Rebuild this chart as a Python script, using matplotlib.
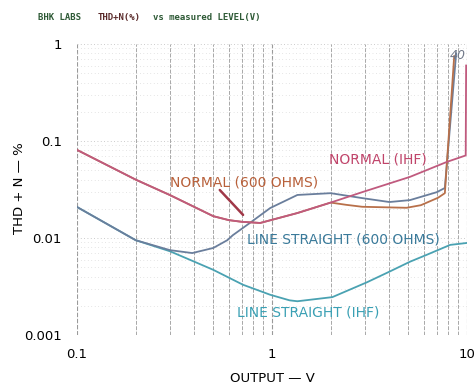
import matplotlib
matplotlib.use("Agg")
import matplotlib.pyplot as plt
from matplotlib.ticker import NullFormatter, LogLocator

# ---- data ----
normal_ihf_v = [0.1, 0.2, 0.3, 0.5, 0.6, 0.7, 0.87, 1.35, 2.0, 2.9, 5.1, 7.9, 9.85, 9.9]
normal_ihf_thd = [0.081, 0.040, 0.0277, 0.0168, 0.0153, 0.0147, 0.0143, 0.0181, 0.0232, 0.0297, 0.0427, 0.061, 0.071, 0.6]

normal_600_v = [0.1, 0.2, 0.3, 0.5, 0.6, 0.7, 0.87, 1.35, 2.0, 2.4, 2.9, 4.9, 5.8, 7.1, 7.7, 8.6]
normal_600_thd = [0.081, 0.040, 0.0277, 0.0168, 0.0153, 0.0147, 0.0143, 0.0181, 0.0232, 0.022, 0.021, 0.0205, 0.0218, 0.026, 0.029, 0.75]

ls_600_v = [0.1, 0.2, 0.3, 0.39, 0.5, 0.59, 0.63, 0.77, 0.98, 1.14, 1.35, 2.0, 2.9, 4.0, 5.1, 7.0, 7.7, 8.8]
ls_600_thd = [0.0209, 0.0095, 0.0075, 0.0070, 0.0079, 0.0095, 0.0107, 0.0143, 0.0204, 0.0236, 0.0278, 0.029, 0.0258, 0.0235, 0.0246, 0.0297, 0.0328, 0.8]

ls_ihf_v = [0.1, 0.2, 0.3, 0.4, 0.5, 0.71, 0.98, 1.23, 1.35, 2.04, 3.07, 4.0, 5.1, 6.2, 8.2, 10]
ls_ihf_thd = [0.0209, 0.0095, 0.0073, 0.0057, 0.0047, 0.0033, 0.0026, 0.00228, 0.00223, 0.00246, 0.0035, 0.0045, 0.0057, 0.0067, 0.0085, 0.0089]

x_ticks = [0.1, 1, 10]
x_tick_labels = ["0.1", "1", "10"]
y_ticks = [0.001, 0.01, 0.1, 1]
y_tick_labels = ["0.001", "0.01", "0.1", "1"]

# ---- figure ----
fig = plt.figure(figsize=(4.74, 3.86), dpi=100)
ax = fig.add_axes([0.1624, 0.132, 0.8228, 0.754])
ax.set_xscale("log")
ax.set_yscale("log")
ax.set_xlim(0.1, 10)
ax.set_ylim(0.001, 1)

for s in ax.spines.values():
    s.set_visible(False)

# grid
ax.xaxis.set_minor_locator(LogLocator(base=10, subs=range(2, 10)))
ax.yaxis.set_minor_locator(LogLocator(base=10, subs=range(2, 10)))
ax.xaxis.set_minor_formatter(NullFormatter())
ax.yaxis.set_minor_formatter(NullFormatter())
ax.grid(True, which="major", axis="x", color="#9a9a9a", lw=0.8, ls=(0, (4, 1.5)))
ax.grid(True, which="minor", axis="x", color="#a8a8a8", lw=0.7, ls=(0, (4, 1.5)))
ax.grid(True, which="major", axis="y", color="#bbbbbb", lw=0.6, ls=(0, (1, 3)))
ax.grid(True, which="minor", axis="y", color="#cccccc", lw=0.5, ls=(0, (1, 4)))

ax.set_xticks(x_ticks)
ax.set_xticklabels(x_tick_labels)
ax.set_yticks(y_ticks)
ax.set_yticklabels(y_tick_labels)
ax.tick_params(which="both", length=0)
ax.tick_params(axis="x", pad=9, labelsize=9.5)
ax.tick_params(axis="y", pad=11, labelsize=9.5)

# curves
ax.plot(ls_ihf_v, ls_ihf_thd, color="#4aa2b2", lw=1.3)
ax.plot(ls_600_v, ls_600_thd, color="#6a7e9c", lw=1.3)
ax.plot(normal_600_v, normal_600_thd, color="#b8704a", lw=1.3)
ax.plot(normal_ihf_v, normal_ihf_thd, color="#c05a7e", lw=1.3)

# axis titles
fig.text(272 / 474, 1 - 378 / 386, "OUTPUT — V", fontsize=9.5, ha="center", va="center")
fig.text(20 / 474, 1 - 188 / 386, "THD + N — %", fontsize=9.5, rotation=90,
         ha="center", va="center")

# curve labels
ax.text(1.96, 0.0652, "NORMAL (IHF)", fontsize=10,
        color="#c0446a", ha="left", va="center")
ax.text(0.30, 0.0378, "NORMAL (600 OHMS)", fontsize=10,
        color="#b8603a", ha="left", va="center")
ax.annotate("", xy=(0.727, 0.0165), xytext=(0.528, 0.0328),
            arrowprops=dict(arrowstyle="-", color="#a03848", lw=1.8))
ax.text(0.744, 0.00977, "LINE STRAIGHT (600 OHMS)", fontsize=10,
        color="#3a7a9a", ha="left", va="center")
ax.text(0.662, 0.00169, "LINE STRAIGHT (IHF)", fontsize=10,
        color="#3aa0b4", ha="left", va="center")
ax.text(8.2, 0.77, "40", fontsize=9, color="#707888", style="italic", ha="left", va="center")

fig.text(0.08, 0.955, "BHK LABS", fontsize=6.5, family="DejaVu Sans Mono",
         color="#2e5a36", ha="left", va="center", weight="bold")
fig.text(0.205, 0.955, "THD+N(%)", fontsize=6.5, family="DejaVu Sans Mono",
         color="#5a2a2a", ha="left", va="center", weight="bold")
fig.text(0.322, 0.955, "vs measured LEVEL(V)", fontsize=6.5, family="DejaVu Sans Mono",
         color="#2e5a36", ha="left", va="center", weight="bold")

fig.savefig("out.png", dpi=100)
